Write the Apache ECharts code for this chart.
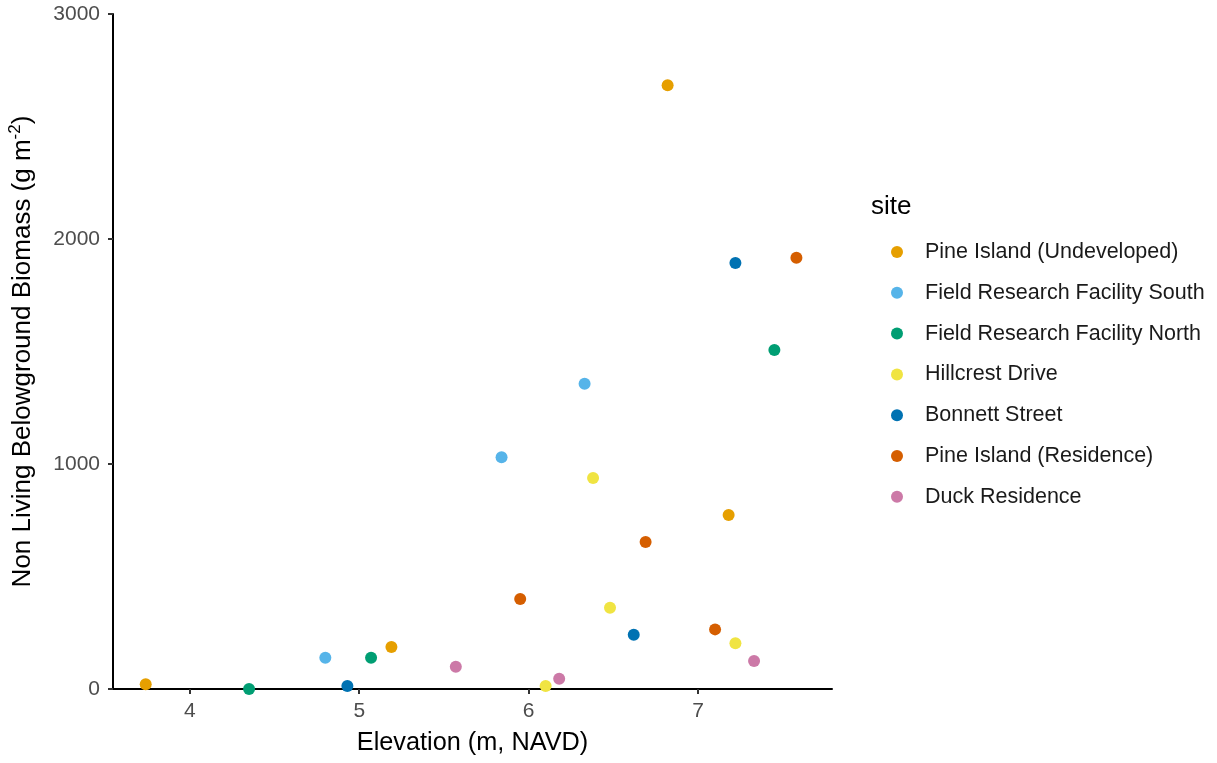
<!DOCTYPE html>
<html>
<head>
<meta charset="utf-8">
<title>Non Living Belowground Biomass vs Elevation</title>
<script src="https://cdn.jsdelivr.net/npm/echarts@6/dist/echarts.min.js"></script>
<style>
  html, body { margin: 0; padding: 0; background: #ffffff; }
  #chart { width: 1217px; height: 763px; }
</style>
</head>
<body>
<div id="chart"></div>
<script>
// Sites, in legend order, with their colours
const sites = [
  'Pine Island (Undeveloped)',
  'Field Research Facility South',
  'Field Research Facility North',
  'Hillcrest Drive',
  'Bonnett Street',
  'Pine Island (Residence)',
  'Duck Residence'
];
const siteColors = ['#E69F00', '#56B4E9', '#009E73', '#F0E442', '#0072B2', '#D55E00', '#CC79A7'];

// Elevation (m, NAVD) per site
const elevPineUndev   = [3.74, 5.19, 6.82, 7.18];
const elevFRFSouth    = [4.80, 5.84, 6.33];
const elevFRFNorth    = [4.35, 5.07, 7.45];
const elevHillcrest   = [6.10, 6.38, 6.48, 7.22];
const elevBonnett     = [4.93, 6.62, 7.22];
const elevPineRes     = [5.95, 6.69, 7.10, 7.58];
const elevDuck        = [5.57, 6.18, 7.33];

// Non living belowground biomass (g m-2) per site
const massPineUndev   = [21, 187, 2683, 773];
const massFRFSouth    = [139, 1030, 1357];
const massFRFNorth    = [0, 139, 1507];
const massHillcrest   = [13, 938, 361, 203];
const massBonnett     = [13, 241, 1893];
const massPineRes     = [400, 653, 265, 1917];
const massDuck        = [99, 46, 124];

// Axis ticks
const xTicks = [4, 5, 6, 7];
const yTicks = [0, 1000, 2000, 3000];

const elevations = [elevPineUndev, elevFRFSouth, elevFRFNorth, elevHillcrest, elevBonnett, elevPineRes, elevDuck];
const masses = [massPineUndev, massFRFSouth, massFRFNorth, massHillcrest, massBonnett, massPineRes, massDuck];

const FONT = '"Liberation Sans", Arial, sans-serif';

const series = sites.map((name, i) => ({
  name: name,
  type: 'scatter',
  symbol: 'circle',
  symbolSize: 12,
  itemStyle: { color: siteColors[i], opacity: 1 },
  data: elevations[i].map((x, k) => [x, masses[i][k]]),
  clip: true,
  z: 3
}));

const chart = echarts.init(document.getElementById('chart'), null, { renderer: 'canvas' });
chart.setOption({
  backgroundColor: '#ffffff',
  animation: false,
  textStyle: { fontFamily: FONT },
  title: {
    text: 'site',
    left: 866,
    top: 189,
    textStyle: { fontFamily: FONT, fontSize: 26, fontWeight: 'normal', color: '#000000' }
  },
  legend: {
    orient: 'vertical',
    left: 886,
    top: 236,
    itemWidth: 12,
    itemHeight: 12,
    itemGap: 18.8,
    icon: 'circle',
    data: sites,
    textStyle: { fontFamily: FONT, fontSize: 21.5, color: '#1a1a1a', padding: [0, 0, 0, 17] }
  },
  grid: { left: 113, right: 385, top: 14, bottom: 74, outerBoundsMode: 'none', containLabel: false },
  xAxis: {
    type: 'value',
    min: 3.547,
    max: 7.79,
    name: 'Elevation (m, NAVD)',
    nameLocation: 'middle',
    nameGap: 42,
    nameTextStyle: { fontFamily: FONT, fontSize: 25.3, color: '#000000' },
    splitLine: { show: false },
    axisLine: { show: true, lineStyle: { color: '#000000', width: 2 } },
    axisTick: { show: true, length: 5, customValues: xTicks, lineStyle: { color: '#333333', width: 2 } },
    axisLabel: { customValues: xTicks, margin: 12, fontFamily: FONT, fontSize: 21, color: '#4D4D4D' }
  },
  yAxis: {
    type: 'value',
    min: 0,
    max: 3000,
    interval: 1000,
    name: 'Non Living Belowground Biomass (g m{sup|-2})',
    nameLocation: 'middle',
    nameGap: 75,
    nameRotate: 90,
    nameTextStyle: {
      fontFamily: FONT, fontSize: 26, color: '#000000',
      rich: {
        sup: { fontFamily: FONT, fontSize: 17, color: '#000000', verticalAlign: 'bottom', padding: [0, 0, 14, 0] }
      }
    },
    splitLine: { show: false },
    axisLine: { show: true, lineStyle: { color: '#000000', width: 2 } },
    axisTick: { show: true, length: 5, customValues: yTicks, lineStyle: { color: '#333333', width: 2 } },
    axisLabel: {
      customValues: yTicks, margin: 13, fontFamily: FONT, fontSize: 21, color: '#4D4D4D',
      formatter: (v) => String(v)
    }
  },
  series: series
});
</script>
</body>
</html>
